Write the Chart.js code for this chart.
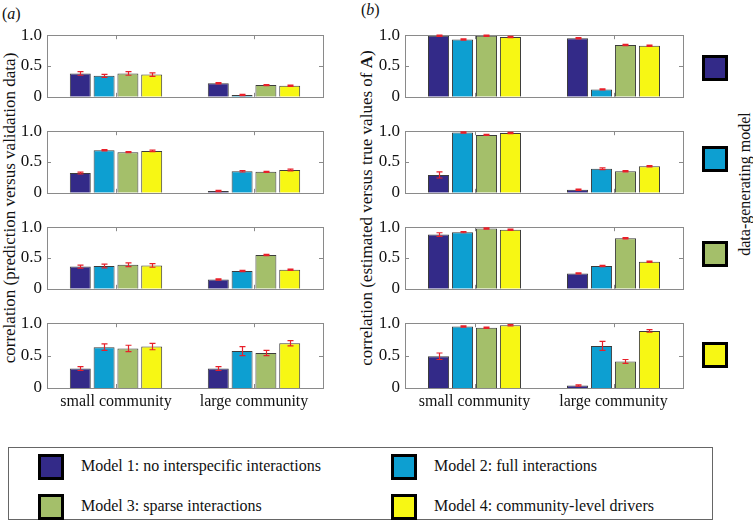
<!DOCTYPE html>
<html>
<head>
<meta charset="utf-8">
<script src="https://cdn.jsdelivr.net/npm/chart.js@4.4.0/dist/chart.umd.min.js"></script>
<style>
body { margin: 0; width: 753px; height: 521px; position: relative; background: #fff; overflow: hidden;
       font-family: "Liberation Serif", "Times New Roman", serif; color: #111; }
canvas { position: absolute; }
.vtext { position: absolute; white-space: nowrap; transform: translate(-50%, -50%) rotate(-90deg); font-size: 17px; }
.tag { position: absolute; font-size: 16px; }
.sq { position: absolute; width: 20px; height: 20px; border: 3px solid #000; }
.legend { position: absolute; left: 8px; top: 447px; width: 703px; height: 71px; border: 1px solid #666; }
.item { position: absolute; font-size: 16px; white-space: nowrap; }
</style>
</head>
<body>

<div class="tag" style="left:2px;top:5px">(<i>a</i>)</div>
<div class="tag" style="left:361px;top:1px">(<i>b</i>)</div>
<div class="vtext" style="left:10px;top:208px">correlation (prediction versus validation data)</div>
<div class="vtext" style="left:367px;top:208px">correlation (estimated versus true values of <b>A</b>)</div>
<div class="vtext" style="left:745px;top:184px;font-size:16px">data-generating model</div>

<div class="legend" id="legend"></div>

<script>
// ===== Data =====
const categories = ["small community", "large community"];
const modelNames = [
    "Model 1: no interspecific interactions",
    "Model 2: full interactions",
    "Model 3: sparse interactions",
    "Model 4: community-level drivers"
];
const modelColors = ["#332a88", "#0d9fd1", "#a4bf6a", "#f7f714"];

// each row = fitted model 1..4, values = [small, large]
// (a) prediction versus validation data, one array per data-generating model
const predGen1 = [[0.38, 0.22], [0.34, 0.03], [0.38, 0.19], [0.36, 0.18]];
const predGen2 = [[0.32, 0.03], [0.69, 0.35], [0.66, 0.34], [0.68, 0.37]];
const predGen3 = [[0.36, 0.15], [0.37, 0.29], [0.39, 0.55], [0.38, 0.31]];
const predGen4 = [[0.30, 0.30], [0.63, 0.57], [0.61, 0.54], [0.64, 0.69]];
const predErr1 = [[0.03, 0.01], [0.025, 0.01], [0.03, 0.01], [0.03, 0.01]];
const predErr2 = [[0.015, 0.01], [0.01, 0.012], [0.01, 0.01], [0.012, 0.015]];
const predErr3 = [[0.025, 0.01], [0.03, 0.01], [0.03, 0.01], [0.03, 0.01]];
const predErr4 = [[0.03, 0.03], [0.05, 0.07], [0.05, 0.04], [0.05, 0.04]];

// (b) estimated versus true values of A
const estGen1 = [[0.99, 0.95], [0.93, 0.12], [0.99, 0.84], [0.97, 0.83]];
const estGen2 = [[0.29, 0.05], [0.98, 0.39], [0.94, 0.35], [0.97, 0.43]];
const estGen3 = [[0.88, 0.25], [0.92, 0.37], [0.98, 0.82], [0.96, 0.44]];
const estGen4 = [[0.49, 0.04], [0.95, 0.65], [0.93, 0.41], [0.97, 0.88]];
const estErr1 = [[0.01, 0.01], [0.01, 0.01], [0.01, 0.01], [0.01, 0.01]];
const estErr2 = [[0.05, 0.01], [0.01, 0.015], [0.01, 0.01], [0.01, 0.01]];
const estErr3 = [[0.03, 0.01], [0.01, 0.01], [0.01, 0.01], [0.01, 0.01]];
const estErr4 = [[0.05, 0.01], [0.01, 0.07], [0.01, 0.03], [0.01, 0.02]];

const yMin = 0, yMax = 1, yStep = 0.5;

// ===== Layout =====
const panelTops = [32, 128, 224, 320];
const panelHeight = 68;
const columns = [
    { canvasLeft: 0, plotLeft: 47, plotRight: 323 },
    { canvasLeft: 358, plotLeft: 405, plotRight: 683 }
];
const canvasWidth = 340;
const padTop = 12;

// ===== Plugin: frame, inward ticks, error bars =====
const framePlugin = {
    id: "frameAndErrors",
    afterDatasetsDraw(chart) {
        const ctx = chart.ctx;
        const a = chart.chartArea;
        const xs = chart.scales.x, ys = chart.scales.y;
        ctx.save();
        ctx.strokeStyle = "#8a8a8a";
        ctx.lineWidth = 1;
        ctx.strokeRect(Math.round(a.left) + 0.5, Math.round(a.top) + 0.5,
            Math.round(a.right - a.left), Math.round(a.bottom - a.top));
        ctx.beginPath();
        categories.forEach((c, i) => {
            const x = Math.round(xs.getPixelForValue(i)) + 0.5;
            ctx.moveTo(x, a.top); ctx.lineTo(x, a.top + 4);
            ctx.moveTo(x, a.bottom); ctx.lineTo(x, a.bottom - 4);
        });
        const y = Math.round(ys.getPixelForValue(0.5)) + 0.5;
        ctx.moveTo(a.left, y); ctx.lineTo(a.left + 4, y);
        ctx.moveTo(a.right, y); ctx.lineTo(a.right - 4, y);
        ctx.stroke();

        // error bars
        ctx.strokeStyle = "#e8202a";
        ctx.lineWidth = 1.2;
        chart.data.datasets.forEach((ds, i) => {
            const meta = chart.getDatasetMeta(i);
            meta.data.forEach((bar, j) => {
                const v = ds.data[j], e = ds.errors[j];
                const x = Math.round(bar.x) + 0.5;
                const y1 = ys.getPixelForValue(v + e);
                const y2 = ys.getPixelForValue(Math.max(v - e, 0));
                ctx.beginPath();
                ctx.moveTo(x, y1); ctx.lineTo(x, y2);
                ctx.moveTo(x - 3, y1); ctx.lineTo(x + 3, y1);
                ctx.moveTo(x - 3, y2); ctx.lineTo(x + 3, y2);
                ctx.stroke();
            });
        });
        ctx.restore();
    }
};

Chart.defaults.font.family = "'Liberation Serif', 'Times New Roman', serif";
Chart.defaults.color = "#111";

function makePanel(col, row, values, errors) {
    const c = columns[col];
    const isBottom = row === panelTops.length - 1;
    const xHeight = isBottom ? 28 : 0;
    const height = padTop + panelHeight + (isBottom ? xHeight + 2 : 12);

    const canvas = document.createElement("canvas");
    canvas.width = canvasWidth;
    canvas.height = height;
    canvas.style.left = c.canvasLeft + "px";
    canvas.style.top = (panelTops[row] - padTop) + "px";
    document.body.appendChild(canvas);

    new Chart(canvas.getContext("2d"), {
        type: "bar",
        data: {
            labels: categories,
            datasets: modelNames.map((name, m) => ({
                label: name,
                data: values[m],
                errors: errors[m],
                backgroundColor: modelColors[m],
                borderColor: "#3c3c3c",
                borderWidth: 1,
                categoryPercentage: 0.69,
                barPercentage: 0.88
            }))
        },
        options: {
            responsive: false,
            animation: false,
            layout: {
                padding: {
                    left: 0,
                    top: padTop,
                    right: c.canvasLeft + canvasWidth - c.plotRight,
                    bottom: isBottom ? 2 : 12
                }
            },
            plugins: { legend: { display: false }, tooltip: { enabled: false } },
            scales: {
                x: {
                    display: isBottom,
                    grid: { display: false, drawTicks: false },
                    border: { display: false },
                    ticks: { font: { size: 16 }, padding: 4, maxRotation: 0 },
                    afterFit(s) { s.height = xHeight; }
                },
                y: {
                    min: yMin,
                    max: yMax,
                    grid: { display: false, drawTicks: false },
                    border: { display: false },
                    ticks: {
                        stepSize: yStep,
                        font: { size: 17 },
                        padding: 5,
                        callback: v => (v === 0 ? "0" : v.toFixed(1))
                    },
                    afterFit(s) { s.width = c.plotLeft - c.canvasLeft; }
                }
            }
        },
        plugins: [framePlugin]
    });
}

const predPanels = [[predGen1, predErr1], [predGen2, predErr2], [predGen3, predErr3], [predGen4, predErr4]];
const estPanels = [[estGen1, estErr1], [estGen2, estErr2], [estGen3, estErr3], [estGen4, estErr4]];
predPanels.forEach((p, r) => makePanel(0, r, p[0], p[1]));
estPanels.forEach((p, r) => makePanel(1, r, p[0], p[1]));

// ===== Right-hand colour key =====
const keyTops = [55, 146, 241, 342];
modelColors.forEach((col, m) => {
    const d = document.createElement("div");
    d.className = "sq";
    d.style.left = "702px";
    d.style.top = keyTops[m] + "px";
    d.style.background = col;
    document.body.appendChild(d);
});

// ===== Bottom legend =====
const legend = document.getElementById("legend");
const legendPos = [[29, 6], [382, 6], [29, 46], [382, 46]];
modelNames.forEach((name, m) => {
    const [lx, ly] = legendPos[m];
    const sq = document.createElement("div");
    sq.className = "sq";
    sq.style.left = lx + "px";
    sq.style.top = ly + "px";
    sq.style.background = modelColors[m];
    legend.appendChild(sq);
    const t = document.createElement("div");
    t.className = "item";
    t.style.left = (lx + 43) + "px";
    t.style.top = (ly + 3) + "px";
    t.textContent = name;
    legend.appendChild(t);
});
</script>
</body>
</html>
